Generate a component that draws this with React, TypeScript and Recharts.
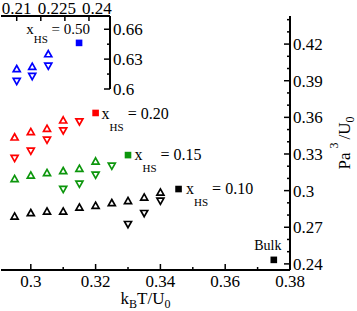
import { ScatterChart, Scatter, XAxis, YAxis } from 'recharts';

const FONT = '"Liberation Serif", "Times New Roman", serif';

// main plot: x = kBT/U0, y = Pa^3/U0
const redUpX = [0.295, 0.3, 0.305, 0.31];
const redUpY = [0.3436, 0.348, 0.3507, 0.3575];
const redDownX = [0.295, 0.3, 0.305, 0.31, 0.315];
const redDownY = [0.3267, 0.3327, 0.3417, 0.3493, 0.3567];
const redSqX = [0.32];
const redSqY = [0.3636];

const greenUpX = [0.295, 0.3, 0.305, 0.31, 0.315, 0.32];
const greenUpY = [0.3095, 0.3124, 0.3144, 0.316, 0.3179, 0.3239];
const greenDownX = [0.31, 0.315, 0.32, 0.325];
const greenDownY = [0.3013, 0.3056, 0.313, 0.3204];
const greenSqX = [0.33];
const greenSqY = [0.3291];

const blackUpX = [0.295, 0.3, 0.305, 0.31, 0.315, 0.32, 0.325, 0.33, 0.335, 0.34];
const blackUpY = [0.2788, 0.2816, 0.2829, 0.2829, 0.2862, 0.2876, 0.2898, 0.2915, 0.2944, 0.2985];
const blackDownX = [0.33, 0.335, 0.34];
const blackDownY = [0.2726, 0.2816, 0.2917];
const blackSqX = [0.3456];
const blackSqY = [0.3013];

const bulkX = [0.375];
const bulkY = [0.2433];

// inset (x_HS = 0.50)
const blueUpX = [0.21, 0.2158, 0.2218];
const blueUpY = [0.62, 0.6223, 0.635];
const blueDownX = [0.21, 0.2158, 0.2218];
const blueDownY = [0.608, 0.613, 0.6233];
const blueSqX = [0.2333];
const blueSqY = [0.6463];

const hsLabels = ['0.20', '0.15', '0.10', '0.50'];
const bulkLabel = 'Bulk';

const xTicks = [0.3, 0.31, 0.32, 0.33, 0.34, 0.35, 0.36, 0.37, 0.38];
const xMajor = [0.3, 0.32, 0.34, 0.36, 0.38];
const yTicks = [0.24, 0.25, 0.26, 0.27, 0.28, 0.29, 0.3, 0.31, 0.32, 0.33, 0.34, 0.35, 0.36, 0.37, 0.38, 0.39, 0.4, 0.41, 0.42, 0.43, 0.44];
const yMajor = [0.24, 0.27, 0.3, 0.33, 0.36, 0.39, 0.42];

const insetXLabels = [0.21, 0.225, 0.24];
const insetXMarks = [0.21, 0.219, 0.228, 0.237];
const insetXTicks = [0.21, 0.219, 0.225, 0.228, 0.237, 0.24];
const insetYTicks = [0.6, 0.615, 0.63, 0.645, 0.66];
const insetYMajor = [0.6, 0.63, 0.66];

const RED = '#ff0000';
const GREEN = '#0c960c';
const BLUE = '#0000ff';
const BLACK = '#000000';

const pts = (xs: number[], ys: number[]) => xs.map((x, i) => ({ x, y: ys[i] }));

const triUp = (color: string) => (p: any) => {
  const { cx, cy } = p;
  return (
    <path
      d={`M${cx},${cy - 3.6}L${cx + 3.5},${cy + 2.6}L${cx - 3.5},${cy + 2.6}Z`}
      fill="none"
      stroke={color}
      strokeWidth={1.7}
    />
  );
};

const triDown = (color: string) => (p: any) => {
  const { cx, cy } = p;
  return (
    <path
      d={`M${cx},${cy + 3.6}L${cx + 3.5},${cy - 2.6}L${cx - 3.5},${cy - 2.6}Z`}
      fill="none"
      stroke={color}
      strokeWidth={1.7}
    />
  );
};

// filled square plus the "x_HS = ..." tag next to it
const hsSquare = (color: string, value: string, dx: number, dy: number, anchor: 'start' | 'end', size: number, sub: number, subDy: number) => (p: any) => {
  const { cx, cy } = p;
  return (
    <g>
      <rect x={cx - 3.3} y={cy - 3.3} width={6.6} height={6.6} fill={color} />
      <text x={cx + dx} y={cy + dy} textAnchor={anchor} fontSize={size} fontFamily={FONT} fill="#000" style={{ whiteSpace: 'pre' }}>
        x
        <tspan fontSize={sub} dy={subDy}>HS</tspan>
        <tspan dy={-subDy}>{` = ${value}`}</tspan>
      </text>
    </g>
  );
};

const bulkSquare = (p: any) => {
  const { cx, cy } = p;
  return (
    <g>
      <rect x={cx - 3.3} y={cy - 3.3} width={6.6} height={6.6} fill={BLACK} />
      <text x={cx - 6} y={cy - 10} textAnchor="middle" fontSize={14} fontFamily={FONT}>
        {bulkLabel}
      </text>
    </g>
  );
};

const BottomTick = (p: any) => {
  const { x, y, payload } = p;
  const major = xMajor.includes(payload.value);
  return (
    <g>
      <line x1={x} y1={y} x2={x} y2={y - (major ? 6 : 3)} stroke="#000" strokeWidth={1.5} />
      {major && (
        <text x={x} y={y + 17} textAnchor="middle" fontSize={17} fontFamily={FONT}>
          {String(payload.value)}
        </text>
      )}
    </g>
  );
};

const RightTick = (p: any) => {
  const { x, y, payload } = p;
  const major = yMajor.includes(payload.value) || insetYMajor.includes(payload.value);
  return (
    <g>
      <line x1={x} y1={y} x2={x - (major ? 6 : 3)} y2={y} stroke="#000" strokeWidth={1.5} />
      {major && (
        <text x={x + 3} y={y + 6} textAnchor="start" fontSize={17} fontFamily={FONT}>
          {String(payload.value)}
        </text>
      )}
    </g>
  );
};

const TopTick = (p: any) => {
  const { x, y, payload } = p;
  const mark = insetXMarks.includes(payload.value);
  const lab = insetXLabels.includes(payload.value);
  return (
    <g>
      {mark && <line x1={x} y1={y} x2={x} y2={y + 5} stroke="#000" strokeWidth={1.5} />}
      {lab && (
        <text x={x} y={y - 2} textAnchor="middle" fontSize={17} fontFamily={FONT}>
          {String(payload.value)}
        </text>
      )}
    </g>
  );
};

const XTitle = (p: any) => {
  const vb = p.viewBox ?? { x: 1, y: 270, width: 289, height: 30 };
  const cx = vb.x + vb.width / 2;
  return (
    <text x={cx} y={vb.y + 34} textAnchor="middle" fontSize={17} fontFamily={FONT}>
      k<tspan fontSize={12} dy={4}>B</tspan>
      <tspan dy={-4}>T/U</tspan>
      <tspan fontSize={12} dy={4}>0</tspan>
    </text>
  );
};

const YTitle = (p: any) => {
  const vb = p.viewBox ?? { x: 290, y: 16, width: 60, height: 254 };
  const cx = vb.x + 60;
  const cy = vb.y + vb.height / 2;
  return (
    <text x={cx} y={cy} transform={`rotate(-90 ${cx} ${cy})`} textAnchor="middle" fontSize={17} fontFamily={FONT}>
      Pa
      <tspan fontSize={12} dx={4} dy={-12}>3</tspan>
      <tspan dx={3} dy={12}>/U</tspan>
      <tspan fontSize={12} dy={4}>0</tspan>
    </text>
  );
};

const frame = { stroke: '#000', strokeWidth: 2 };

export default function App() {
  return (
    <div style={{ position: 'absolute', left: 0, top: 0, width: 357, height: 311, background: '#fff' }}>
      <div style={{ position: 'absolute', left: 0, top: 0 }}>
        <ScatterChart width={357} height={311} margin={{ top: 16, right: 7, bottom: 11, left: 1 }}>
          <XAxis
            type="number"
            dataKey="x"
            domain={[0.2908, 0.38]}
            allowDataOverflow
            ticks={xTicks}
            interval={0}
            tick={<BottomTick />}
            tickLine={false}
            tickSize={0}
            tickMargin={0}
            axisLine={frame}
            height={30}
            label={XTitle}
          />
          <XAxis xAxisId="top" type="number" orientation="top" domain={[0, 1]} height={0} tick={false} tickLine={false} axisLine={frame} />
          <YAxis
            type="number"
            dataKey="y"
            orientation="right"
            domain={[0.235, 0.443]}
            allowDataOverflow
            ticks={yTicks}
            interval={0}
            tick={<RightTick />}
            tickLine={false}
            tickSize={0}
            tickMargin={0}
            axisLine={frame}
            width={60}
            label={YTitle}
          />
          <YAxis yAxisId="left" type="number" orientation="left" domain={[0, 1]} width={0} tick={false} tickLine={false} axisLine={frame} />
          <Scatter data={pts(redUpX, redUpY)} shape={triUp(RED)} isAnimationActive={false} />
          <Scatter data={pts(redDownX, redDownY)} shape={triDown(RED)} isAnimationActive={false} />
          <Scatter data={pts(redSqX, redSqY)} shape={hsSquare(RED, hsLabels[0], 6, 6, 'start', 16, 11, 12)} isAnimationActive={false} />
          <Scatter data={pts(greenUpX, greenUpY)} shape={triUp(GREEN)} isAnimationActive={false} />
          <Scatter data={pts(greenDownX, greenDownY)} shape={triDown(GREEN)} isAnimationActive={false} />
          <Scatter data={pts(greenSqX, greenSqY)} shape={hsSquare(GREEN, hsLabels[1], 6.5, 5, 'start', 16, 11, 12)} isAnimationActive={false} />
          <Scatter data={pts(blackUpX, blackUpY)} shape={triUp(BLACK)} isAnimationActive={false} />
          <Scatter data={pts(blackDownX, blackDownY)} shape={triDown(BLACK)} isAnimationActive={false} />
          <Scatter data={pts(blackSqX, blackSqY)} shape={hsSquare(BLACK, hsLabels[2], 7.5, 4.5, 'start', 16, 11, 12)} isAnimationActive={false} />
          <Scatter data={pts(bulkX, bulkY)} shape={bulkSquare} isAnimationActive={false} />
        </ScatterChart>
      </div>
      <div style={{ position: 'absolute', left: 1, top: 16, width: 109, height: 73, background: '#fff' }} />
      <div style={{ position: 'absolute', left: 0, top: 0 }}>
        <ScatterChart width={160} height={100} margin={{ top: 0, right: 0, bottom: 11, left: 1 }}>
          <XAxis
            xAxisId="top"
            type="number"
            dataKey="x"
            orientation="top"
            domain={[0.20413, 0.24486]}
            allowDataOverflow
            ticks={insetXTicks}
            interval={0}
            tick={<TopTick />}
            tickLine={false}
            tickSize={0}
            tickMargin={0}
            axisLine={frame}
            height={16}
          />
          <XAxis xAxisId="bottom" type="number" orientation="bottom" domain={[0, 1]} height={0} tick={false} tickLine={false} axisLine={frame} />
          <YAxis
            type="number"
            dataKey="y"
            orientation="right"
            domain={[0.6, 0.6733]}
            allowDataOverflow
            ticks={insetYTicks}
            interval={0}
            tick={<RightTick />}
            tickLine={false}
            tickSize={0}
            tickMargin={0}
            axisLine={frame}
            width={50}
          />
          <YAxis yAxisId="left" type="number" orientation="left" domain={[0, 1]} width={0} tick={false} tickLine={false} axisLine={frame} />
          <Scatter xAxisId="top" data={pts(blueUpX, blueUpY)} shape={triUp(BLUE)} isAnimationActive={false} />
          <Scatter xAxisId="top" data={pts(blueDownX, blueDownY)} shape={triDown(BLUE)} isAnimationActive={false} />
          <Scatter xAxisId="top" data={pts(blueSqX, blueSqY)} shape={hsSquare(BLUE, hsLabels[3], 11, -9, 'end', 15, 11, 9)} isAnimationActive={false} />
        </ScatterChart>
      </div>
    </div>
  );
}
